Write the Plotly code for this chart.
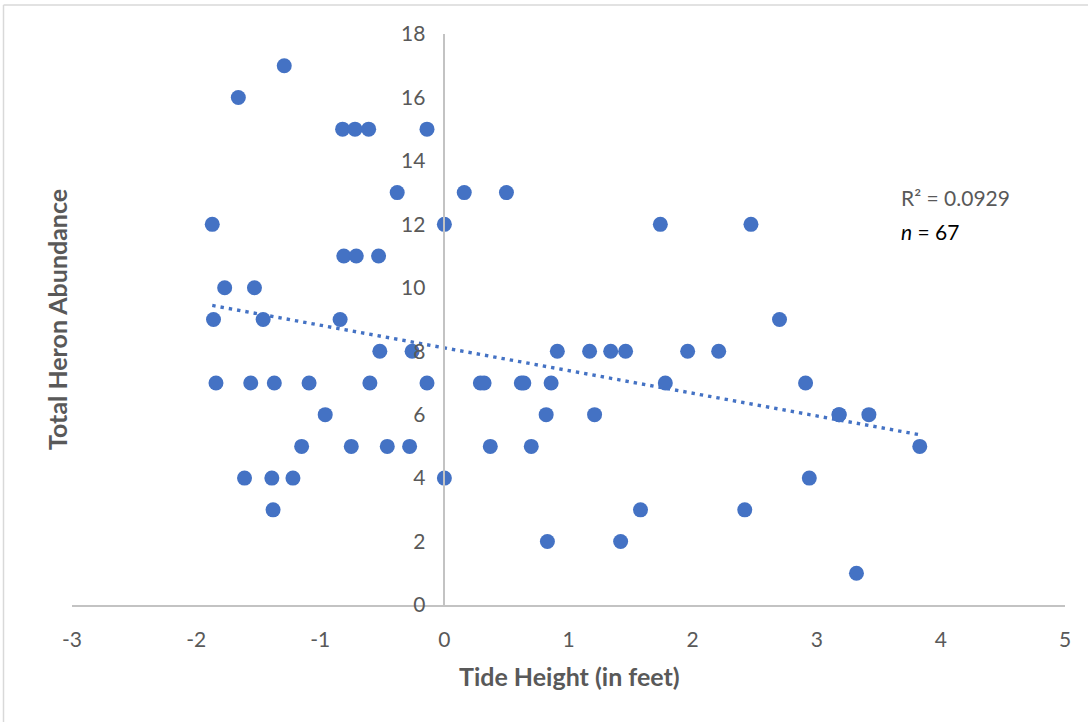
import numpy as np
import plotly.graph_objects as go

# Tide height (ft) and total heron count for each survey
tide_height = [
    -1.29,
    -1.66,
    -0.82, -0.72, -0.61, -0.14,
    -0.38, 0.16, 0.50,
    -1.87, 0.00, 1.74, 2.47,
    -0.81, -0.71, -0.53,
    -1.77, -1.53,
    -1.86, -1.46, -0.84, 2.70,
    -0.52, -0.26, 0.91, 1.17, 1.34, 1.46, 1.96, 2.21,
    -1.84, -1.56, -1.37, -1.09, -0.60, -0.14, 0.29, 0.32, 0.62, 0.64, 0.86, 1.78, 2.91,
    -0.96, 0.82, 1.21, 3.18, 3.18, 3.42,
    -1.15, -0.75, -0.46, -0.28, 0.37, 0.70, 3.83,
    -1.61, -1.39, -1.22, 0.00, 2.94,
    -1.38, 1.58, 2.42,
    0.83, 1.42,
    3.32,
]
heron_abundance = (
    [17] * 1 + [16] * 1 + [15] * 4 + [13] * 3 + [12] * 4 + [11] * 3 + [10] * 2
    + [9] * 4 + [8] * 8 + [7] * 13 + [6] * 6 + [5] * 7 + [4] * 5 + [3] * 3
    + [2] * 2 + [1] * 1
)

x_ticks = [-3, -2, -1, 0, 1, 2, 3, 4, 5]
x_tick_text = ["-3", "-2", "-1", "0", "1", "2", "3", "4", "5"]
y_ticks = [0, 2, 4, 6, 8, 10, 12, 14, 16, 18]
r_squared_label = "R² = 0.0929"
n_label = "<i>n</i> = " + str(len(tide_height))

BLUE = "#4472C4"
GREY_TEXT = "#595959"
AXIS_GREY = "#c3c3c3"
FONT = "Lato"

# Linear trendline across the observed tide range
xa = np.array(tide_height)
ya = np.array(heron_abundance)
slope, intercept = np.polyfit(xa, ya, 1)
trend_x = np.array([xa.min(), xa.max()])
trend_y = slope * trend_x + intercept

fig = go.Figure()
fig.add_trace(go.Scatter(
    x=trend_x, y=trend_y, mode="lines",
    line=dict(color=BLUE, width=3.4, dash="3.4px,5px"),
    showlegend=False, hoverinfo="skip",
))
fig.add_trace(go.Scatter(
    x=tide_height, y=heron_abundance, mode="markers",
    marker=dict(size=15, color=BLUE, line=dict(width=0)),
    showlegend=False, hoverinfo="x+y",
))

W, H = 1088, 722
L, R, T, B = 72, 23, 34, 117
pw, ph = W - L - R, H - T - B

def px_x(p):
    return (p - L) / pw

def px_y(p):
    return (H - B - p) / ph

# y axis crosses the x axis at x = 0
y_axis_pos = (0 - (-3)) / (5 - (-3))

fig.update_layout(
    width=W, height=H,
    margin=dict(l=L, r=R, t=T, b=B, pad=0),
    paper_bgcolor="white", plot_bgcolor="white",
    font=dict(family=FONT, color=GREY_TEXT, size=21),
    xaxis=dict(
        range=[-3, 5], tickvals=x_ticks, ticktext=x_tick_text,
        showgrid=False, zeroline=False,
        showline=True, linecolor=AXIS_GREY, linewidth=1.6,
        ticks="", ticklabelstandoff=15,
        tickfont=dict(family=FONT, size=21, color=GREY_TEXT),
    ),
    yaxis=dict(
        range=[0, 18], tickvals=y_ticks, showgrid=False, zeroline=False,
        showline=True, linecolor=AXIS_GREY, linewidth=1.6,
        anchor="free", position=y_axis_pos,
        ticks="", ticklabelstandoff=14,
        tickfont=dict(family=FONT, size=21, color=GREY_TEXT),
    ),
    annotations=[
        dict(text="<b>Tide Height (in feet)</b>", xref="paper", yref="paper",
             x=px_x(569), y=px_y(676), showarrow=False,
             xanchor="center", yanchor="middle",
             font=dict(family=FONT, size=25, color=GREY_TEXT)),
        dict(text="<b>Total Heron Abundance</b>", xref="paper", yref="paper",
             x=px_x(57), y=px_y(320), showarrow=False, textangle=-90,
             xanchor="center", yanchor="middle",
             font=dict(family=FONT, size=25, color=GREY_TEXT)),
        dict(text=r_squared_label, xref="paper", yref="paper",
             x=px_x(899), y=px_y(197), showarrow=False,
             xanchor="left", yanchor="middle",
             font=dict(family=FONT, size=21, color=GREY_TEXT)),
        dict(text=n_label, xref="paper", yref="paper",
             x=px_x(899), y=px_y(231), showarrow=False,
             xanchor="left", yanchor="middle",
             font=dict(family=FONT, size=21, color="black")),
    ],
    shapes=[
        # chart-area frame (left and top edges)
        dict(type="line", xref="paper", yref="paper",
             x0=px_x(3.5), x1=px_x(3.5), y0=px_y(5), y1=px_y(H + 2),
             line=dict(color="#d9d9d9", width=1.5)),
        dict(type="line", xref="paper", yref="paper",
             x0=px_x(3.5), x1=px_x(W + 2), y0=px_y(5), y1=px_y(5),
             line=dict(color="#d9d9d9", width=1.5)),
    ],
)

fig.write_html("out.html")
